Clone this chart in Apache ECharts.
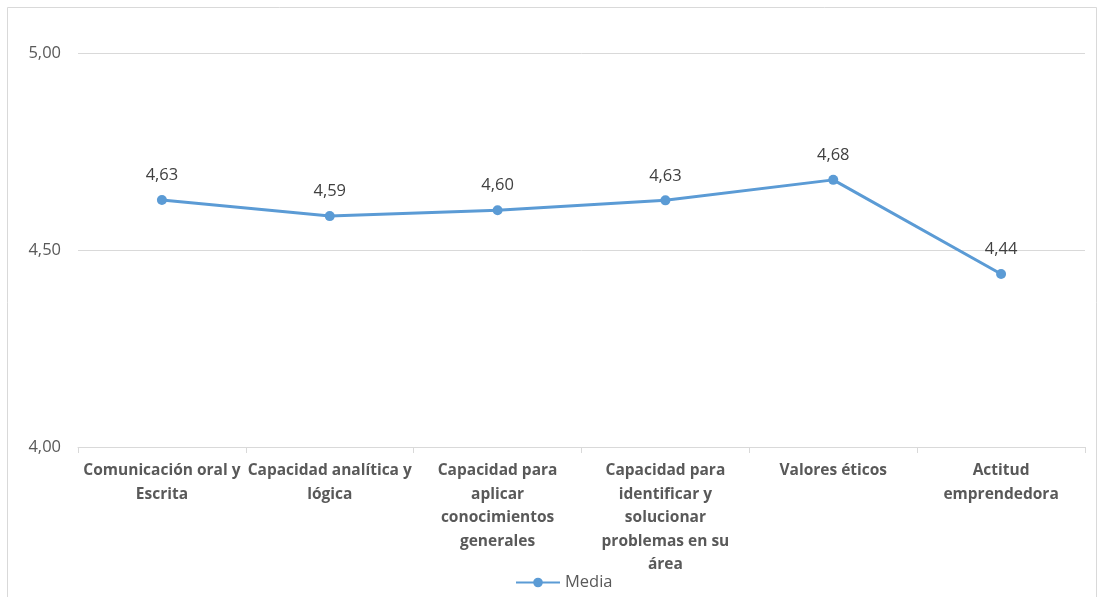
<!DOCTYPE html>
<html><head><meta charset="utf-8">
<script src="https://cdn.jsdelivr.net/npm/echarts@6/dist/echarts.min.js"></script>
<style>html,body{margin:0;padding:0;background:#fff}#c{width:1102px;height:597px}</style>
</head><body><div id="c"></div>
<script>
const categories = [
  "Comunicación oral y\nEscrita",
  "Capacidad analítica y\nlógica",
  "Capacidad para\naplicar\nconocimientos\ngenerales",
  "Capacidad para\nidentificar y\nsolucionar\nproblemas en su\nárea",
  "Valores éticos",
  "Actitud\nemprendedora"
];
const media = [4.627, 4.586, 4.601, 4.626, 4.678, 4.439];
const yTicks = [4.0, 4.5, 5.0];

const chart = echarts.init(document.getElementById('c'), null, {renderer:'canvas'});
chart.setOption({
  animation:false,
  backgroundColor:'#fff',
  graphic:[{type:'rect',shape:{x:7.5,y:7.5,width:1089,height:620},style:{fill:'none',stroke:'#d9d9d9',lineWidth:1},silent:true}],
  grid:{left:78,right:17,top:53,bottom:150,containLabel:false},
  legend:{top:569,left:510,itemWidth:44,itemHeight:12,itemGap:3,
    textStyle:{fontFamily:'Open Sans',fontSize:16.5,color:'#595959'},
    data:[{name:'Media'}]},
  xAxis:{type:'category',data:categories,boundaryGap:true,
    axisLine:{lineStyle:{color:'#d9d9d9',width:1}},
    axisTick:{show:true,length:6,lineStyle:{color:'#d9d9d9'},alignWithLabel:false},
    axisLabel:{interval:0,margin:12,fontFamily:'Open Sans',fontWeight:'bold',fontSize:15.5,color:'#595959',lineHeight:23.5}},
  yAxis:{type:'value',min:4.0,max:5.0,interval:0.5,
    axisLine:{show:false},axisTick:{show:false},
    splitLine:{lineStyle:{color:'#d9d9d9',width:1}},
    axisLabel:{margin:17,fontFamily:'Open Sans',fontSize:16.5,color:'#595959',
      formatter:v=>v.toFixed(2).replace('.',','),
      customValues:yTicks}},
  series:[{name:'Media',type:'line',data:media,symbol:'circle',symbolSize:10,
    lineStyle:{color:'#5b9bd5',width:3},itemStyle:{color:'#5b9bd5'},
    label:{show:true,position:'top',distance:11,fontFamily:'Open Sans',fontSize:16.5,color:'#404040',
      formatter:p=>p.value.toFixed(2).replace('.',',')}}]
});
</script></body></html>
